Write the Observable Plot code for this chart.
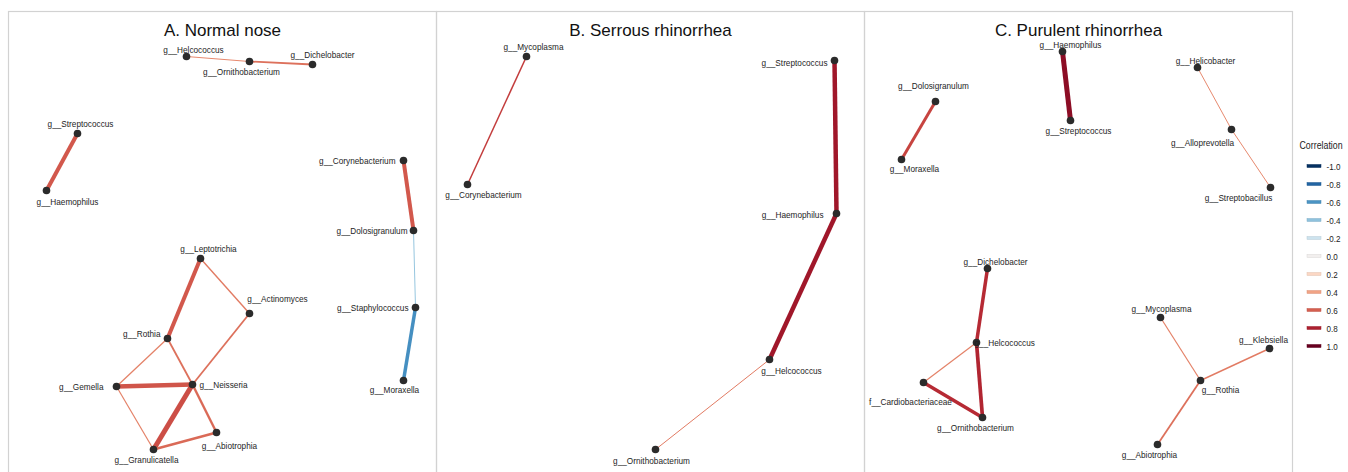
<!DOCTYPE html>
<html>
<head>
<meta charset="utf-8">
<script src="https://cdn.jsdelivr.net/npm/d3@7"></script>
<script src="https://cdn.jsdelivr.net/npm/@observablehq/plot@0.6"></script>
<style>
  html, body { margin: 0; padding: 0; background: #fff; overflow: hidden; }
  #wrap { position: relative; width: 1348px; height: 472px; }
  #legend { position: absolute; left: 1293px; top: 0; }
  #main { position: absolute; left: 0; top: 0; }
</style>
</head>
<body>
<div id="wrap"><div id="main"></div><div id="legend"></div></div>
<script>
// ---------- data ----------
const panels = ["A", "B", "C"];
const titles = ["A. Normal nose", "B. Serrous rhinorrhea", "C. Purulent rhinorrhea"];

// node layout coordinates within each panel: [name, x, y]
const nodesA = [
  ["g__Helcococcus", 178, 45], ["g__Ornithobacterium", 241, 50], ["g__Dichelobacter", 304, 53],
  ["g__Streptococcus", 69, 122], ["g__Haemophilus", 38, 179],
  ["g__Corynebacterium", 395, 149], ["g__Dolosigranulum", 405, 219], ["g__Staphylococcus", 407, 296], ["g__Moraxella", 395, 369],
  ["g__Leptotrichia", 192, 247], ["g__Actinomyces", 241, 302], ["g__Rothia", 159, 327], ["g__Gemella", 108, 375],
  ["g__Neisseria", 184, 373], ["g__Abiotrophia", 208, 421], ["g__Granulicatella", 145, 438]
];
const nodesB = [
  ["g__Mycoplasma", 90, 45], ["g__Corynebacterium", 31, 173], ["g__Streptococcus", 398, 49],
  ["g__Haemophilus", 400, 202], ["g__Helcococcus", 333, 348], ["g__Ornithobacterium", 219, 438]
];
const nodesC = [
  ["g__Haemophilus", 198, 40], ["g__Streptococcus", 206, 109], ["g__Dolosigranulum", 71, 90], ["g__Moraxella", 37, 148],
  ["g__Helicobacter", 333, 56], ["g__Alloprevotella", 367, 118], ["g__Streptobacillus", 406, 176],
  ["g__Dichelobacter", 123, 257], ["g__Helcococcus", 112, 331], ["f__Cardiobacteriaceae", 59, 371], ["g__Ornithobacterium", 118, 406],
  ["g__Mycoplasma", 296, 306], ["g__Klebsiella", 405, 337], ["g__Rothia", 336, 369], ["g__Abiotrophia", 293, 433]
];

// edges: [source, target, correlation, weight]
const edgesA = [
  ["g__Helcococcus", "g__Ornithobacterium", 0.48, 1.2],
  ["g__Ornithobacterium", "g__Dichelobacter", 0.55, 1.8],
  ["g__Streptococcus", "g__Haemophilus", 0.62, 4],
  ["g__Corynebacterium", "g__Dolosigranulum", 0.62, 4],
  ["g__Dolosigranulum", "g__Staphylococcus", -0.38, 1],
  ["g__Staphylococcus", "g__Moraxella", -0.62, 3.5],
  ["g__Leptotrichia", "g__Rothia", 0.62, 4],
  ["g__Leptotrichia", "g__Actinomyces", 0.52, 1.4],
  ["g__Actinomyces", "g__Neisseria", 0.55, 1.8],
  ["g__Rothia", "g__Gemella", 0.5, 1.2],
  ["g__Rothia", "g__Neisseria", 0.55, 1.8],
  ["g__Gemella", "g__Neisseria", 0.63, 4.5],
  ["g__Gemella", "g__Granulicatella", 0.5, 1.2],
  ["g__Neisseria", "g__Granulicatella", 0.65, 5],
  ["g__Neisseria", "g__Abiotrophia", 0.57, 2.4],
  ["g__Granulicatella", "g__Abiotrophia", 0.57, 2.4]
];
const edgesB = [
  ["g__Mycoplasma", "g__Corynebacterium", 0.7, 1.5],
  ["g__Streptococcus", "g__Haemophilus", 0.84, 4.5],
  ["g__Haemophilus", "g__Helcococcus", 0.84, 4.5],
  ["g__Helcococcus", "g__Ornithobacterium", 0.52, 1]
];
const edgesC = [
  ["g__Haemophilus", "g__Streptococcus", 0.9, 5],
  ["g__Dolosigranulum", "g__Moraxella", 0.68, 3],
  ["g__Helicobacter", "g__Alloprevotella", 0.48, 1],
  ["g__Alloprevotella", "g__Streptobacillus", 0.48, 1],
  ["g__Dichelobacter", "g__Helcococcus", 0.76, 3.5],
  ["g__Helcococcus", "g__Ornithobacterium", 0.78, 3.7],
  ["g__Helcococcus", "f__Cardiobacteriaceae", 0.5, 1.2],
  ["f__Cardiobacteriaceae", "g__Ornithobacterium", 0.76, 3.5],
  ["g__Mycoplasma", "g__Rothia", 0.5, 1.2],
  ["g__Klebsiella", "g__Rothia", 0.52, 1.4],
  ["g__Rothia", "g__Abiotrophia", 0.55, 1.8]
];

const legendTicks = [-1.0, -0.8, -0.6, -0.4, -0.2, 0.0, 0.2, 0.4, 0.6, 0.8, 1.0];
const legendTitle = "Correlation";

// label placement (layout style): [dx, dy, anchor]
const labelPlace = {
  A: {
    "g__Helcococcus": [7, -7, "m"], "g__Ornithobacterium": [-8, 10, "m"], "g__Dichelobacter": [10, -10, "m"],
    "g__Streptococcus": [3, -10, "m"], "g__Haemophilus": [21, 11, "m"],
    "g__Corynebacterium": [-8, 0, "e"], "g__Dolosigranulum": [-6, 0, "e"], "g__Staphylococcus": [-7, 0, "e"],
    "g__Moraxella": [-9, 9, "m"], "g__Leptotrichia": [8, -10, "m"], "g__Actinomyces": [28, -15, "m"],
    "g__Rothia": [-7, -5, "e"], "g__Gemella": [-13, 0, "e"], "g__Neisseria": [7, 0, "s"],
    "g__Abiotrophia": [13, 13, "m"], "g__Granulicatella": [-7, 10, "m"]
  },
  B: {
    "g__Mycoplasma": [7, -10, "m"], "g__Corynebacterium": [16, 10, "m"], "g__Streptococcus": [-7, 2, "e"],
    "g__Haemophilus": [-13, 1, "e"], "g__Helcococcus": [22, 11, "m"], "g__Ornithobacterium": [-4, 11, "m"]
  },
  C: {
    "g__Haemophilus": [8, -7, "m"], "g__Streptococcus": [8, 10, "m"], "g__Dolosigranulum": [-2, -16, "m"],
    "g__Moraxella": [13, 9, "m"], "g__Helicobacter": [8, -7, "m"], "g__Alloprevotella": [-29, 13, "m"],
    "g__Streptobacillus": [-32, 10, "m"], "g__Dichelobacter": [8, -7, "m"], "g__Helcococcus": [-2, 0, "s"],
    "f__Cardiobacteriaceae": [-13, 19, "m"], "g__Ornithobacterium": [-7, 10, "m"], "g__Mycoplasma": [1, -9, "m"],
    "g__Klebsiella": [-6, -9, "m"], "g__Rothia": [20, 9, "m"], "g__Abiotrophia": [-8, 10, "m"]
  }
};

// ---------- build tables ----------
const nodeSets = [nodesA, nodesB, nodesC];
const edgeSets = [edgesA, edgesB, edgesC];
const nodes = panels.flatMap((p, i) => nodeSets[i].map(([name, x, y]) => {
  const [dx, dy, anchor] = labelPlace[p][name];
  return {panel: p, name, x, y, dx, dy, anchor};
}));
const lookup = new Map(nodes.map(n => [n.panel + "|" + n.name, n]));
const edges = panels.flatMap((p, i) => edgeSets[i].map(([s, t, r, w]) => {
  const a = lookup.get(p + "|" + s), b = lookup.get(p + "|" + t);
  return {panel: p, x1: a.x, y1: a.y, x2: b.x, y2: b.y, r, w};
}));

const colorOpts = {type: "linear", scheme: "RdBu", domain: [-1, 1], reverse: true};
const font = "'Liberation Sans', Arial, Helvetica, sans-serif";
const NARROW = 0.84; // horizontal condensing of the small label font

// render hook: append a per-datum offset and a horizontal condensing to each text
function condensed(data, offset) {
  return function (index, scales, values, dimensions, context, next) {
    const g = next(index, scales, values, dimensions, context);
    g.querySelectorAll("text").forEach((t, k) => {
      const [dx, dy] = offset ? offset(data[index[k]]) : [0, 0];
      t.setAttribute("transform", (t.getAttribute("transform") || "") + ` translate(${dx},${dy}) scale(${NARROW},1)`);
    });
    return g;
  };
}

function labels(anchor, textAnchor) {
  const data = nodes.filter(n => n.anchor === anchor);
  return Plot.text(data, {
    fx: "panel", x: "x", y: "y", text: "name", textAnchor,
    fontSize: 9.8, fill: "#1e1e1e", fontFamily: font,
    render: condensed(data, d => [d.dx, d.dy])
  });
}

const chart = Plot.plot({
  width: 1348, height: 472,
  marginLeft: 8, marginRight: 56, marginTop: 11, marginBottom: -3,
  fx: {domain: panels, padding: 0, axis: null},
  x: {domain: [0, 428], axis: null},
  y: {domain: [0, 464], reverse: true, axis: null},
  color: colorOpts,
  style: {background: "#fff", fontFamily: font},
  marks: [
    Plot.frame({stroke: "#d2d2d2", strokeWidth: 1.2}),
    Plot.text(panels, {fx: d => d, text: (d, i) => titles[i], frameAnchor: "top", dy: 12,
      fontSize: 17, fill: "#111", fontFamily: font}),
    Plot.link(edges, {fx: "panel", x1: "x1", y1: "y1", x2: "x2", y2: "y2", stroke: "r", strokeWidth: "w"}),
    Plot.dot(nodes, {fx: "panel", x: "x", y: "y", r: 3.8, fill: "#2b2b2b"}),
    labels("m", "middle"),
    labels("s", "start"),
    labels("e", "end")
  ]
});
document.getElementById("main").appendChild(chart);

const colorScale = Plot.scale({color: colorOpts});
const legend = Plot.plot({
  width: 55, height: 472, margin: 0,
  x: {type: "band", domain: ["swatch"], range: [12, 29], axis: null},
  y: {type: "band", domain: legendTicks, range: [152.5, 360.5], axis: null},
  color: colorOpts,
  style: {background: "transparent"},
  marks: [
    Plot.text([legendTitle], {frameAnchor: "top-left", dx: 6, dy: 141, text: d => d, textAnchor: "start",
      fontSize: 10.5, fill: "#222", fontFamily: font, render: condensed([legendTitle])}),
    Plot.cell(legendTicks, {x: () => "swatch", y: d => d, fill: d => d, insetTop: 6.5, insetBottom: 6.5,
      stroke: d => d3.color(colorScale.apply(d)).darker(0.3).formatHex(), strokeWidth: 0.5}),
    Plot.text(legendTicks, {x: () => "swatch", y: d => d, text: d => d.toFixed(1), dx: 12, textAnchor: "start",
      fontSize: 9.6, fill: "#222", fontFamily: font, render: condensed(legendTicks)})
  ]
});
document.getElementById("legend").appendChild(legend);
</script>
</body>
</html>
